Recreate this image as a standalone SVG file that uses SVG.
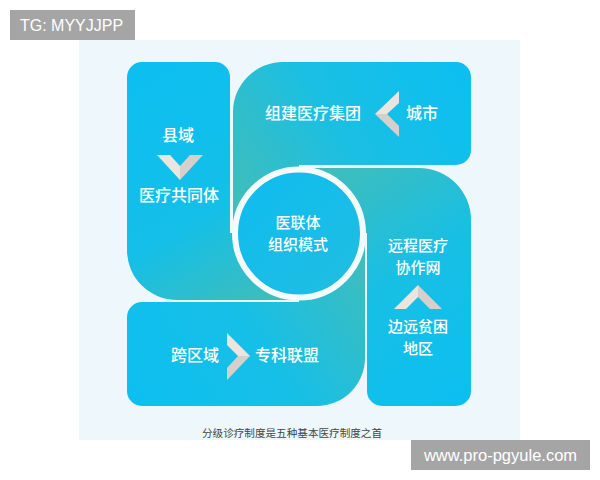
<svg xmlns="http://www.w3.org/2000/svg" width="600" height="480" viewBox="0 0 600 480">
<defs>
<style>
.t{font-family:"Noto Sans CJK SC","Noto Sans",sans-serif;font-size:16px;font-weight:500;fill:#ffffff;text-anchor:middle}
.m{font-size:15px}
.wm{font-family:"Liberation Sans",Arial,sans-serif;fill:#ffffff}
.cl{fill:#ece4df}
.cd{fill:#d6cfcb}
</style>
<linearGradient id="gL" gradientUnits="userSpaceOnUse" x1="160" y1="70" x2="295" y2="300">
<stop offset="0" stop-color="#0dbff0"/><stop offset="0.55" stop-color="#14bfe8"/><stop offset="1" stop-color="#42bdb6"/>
</linearGradient>
<linearGradient id="gT" gradientUnits="userSpaceOnUse" x1="465" y1="90" x2="240" y2="225">
<stop offset="0" stop-color="#0dbff0"/><stop offset="0.5" stop-color="#1bbfe2"/><stop offset="1" stop-color="#42bdb8"/>
</linearGradient>
<linearGradient id="gR" gradientUnits="userSpaceOnUse" x1="450" y1="400" x2="305" y2="175">
<stop offset="0" stop-color="#0dbff0"/><stop offset="0.5" stop-color="#18bfe4"/><stop offset="1" stop-color="#42bdb8"/>
</linearGradient>
<linearGradient id="gB" gradientUnits="userSpaceOnUse" x1="135" y1="395" x2="360" y2="245">
<stop offset="0" stop-color="#0dbff0"/><stop offset="0.5" stop-color="#17bfe6"/><stop offset="1" stop-color="#3fbdbb"/>
</linearGradient>
<linearGradient id="gC" gradientUnits="userSpaceOnUse" x1="250" y1="180" x2="350" y2="290">
<stop offset="0" stop-color="#0fbdee"/><stop offset="1" stop-color="#20bde2"/>
</linearGradient>
</defs>

<rect x="0" y="0" width="600" height="480" fill="#ffffff"/>
<rect x="79" y="40" width="441" height="400" fill="#eef7fc"/>

<g id="node-county">
<path d="M142,62 H215 A15,15 0 0 1 230,77 V233 H299 V300 H177 A50,50 0 0 1 127,250 V77 A15,15 0 0 1 142,62 Z" fill="url(#gL)"/>
<text class="t" x="178" y="141">县域</text>
<text class="t" x="179" y="201">医疗共同体</text>
</g>

<g id="node-city">
<path d="M283,62 H456 A15,15 0 0 1 471,77 V150 A15,15 0 0 1 456,165 H299 V233 H233 V112 A50,50 0 0 1 283,62 Z" fill="url(#gT)"/>
<text class="t" x="313" y="119">组建医疗集团</text>
<text class="t" x="422" y="119">城市</text>
</g>

<g id="node-remote">
<path d="M299,168 H419 A52,52 0 0 1 471,220 V391 A15,15 0 0 1 456,406 H382 A15,15 0 0 1 367,391 V233 H299 Z" fill="url(#gR)"/>
<text class="t m"><tspan x="418" y="250.5">远程医疗</tspan><tspan x="418" y="272.5">协作网</tspan></text>
<text class="t m"><tspan x="418" y="331.5">边远贫困</tspan><tspan x="418" y="353.5">地区</tspan></text>
</g>

<g id="node-cross">
<path d="M142,302 H299 V233 H365 V358 A48,48 0 0 1 317,406 H142 A15,15 0 0 1 127,391 V317 A15,15 0 0 1 142,302 Z" fill="url(#gB)"/>
<text class="t" x="195" y="361">跨区域</text>
<text class="t" x="287" y="361">专科联盟</text>
</g>

<g id="node-center">
<circle cx="299" cy="233.5" r="64" fill="url(#gC)" stroke="#f5fbfd" stroke-width="6"/>
<text class="t m"><tspan x="298" y="227.5">医联体</tspan><tspan x="298" y="249.5">组织模式</tspan></text>
</g>

<g id="connectors">
<polygon class="cl" points="157,155 170,155 180,166 180,180"/>
<polygon class="cd" points="180,166 190,155 203,155 180,180"/>
<polygon class="cl" points="399,91 399,103 387,114 375,114"/>
<polygon class="cd" points="375,114 387,114 399,126 399,137"/>
<polygon class="cl" points="227,333 227,345 238,356 250,356"/>
<polygon class="cd" points="250,356 238,356 227,368 227,380"/>
<polygon class="cl" points="394,309 406,309 418,297 418,285"/>
<polygon class="cd" points="418,285 418,297 430,309 442,309"/>
</g>

<text x="292" y="437" font-family="&quot;Noto Sans CJK SC&quot;,sans-serif" font-size="10.6" fill="#444444" text-anchor="middle">分级诊疗制度是五种基本医疗制度之首</text>

<rect x="10" y="10" width="125" height="30" fill="#a5a5a5"/>
<text class="wm" x="20" y="31" font-size="16">TG: MYYJJPP</text>
<rect x="411" y="440" width="179" height="30" fill="#a5a5a5"/>
<text class="wm" x="500.5" y="461" font-size="16.5" text-anchor="middle">www.pro-pgyule.com</text>
</svg>
